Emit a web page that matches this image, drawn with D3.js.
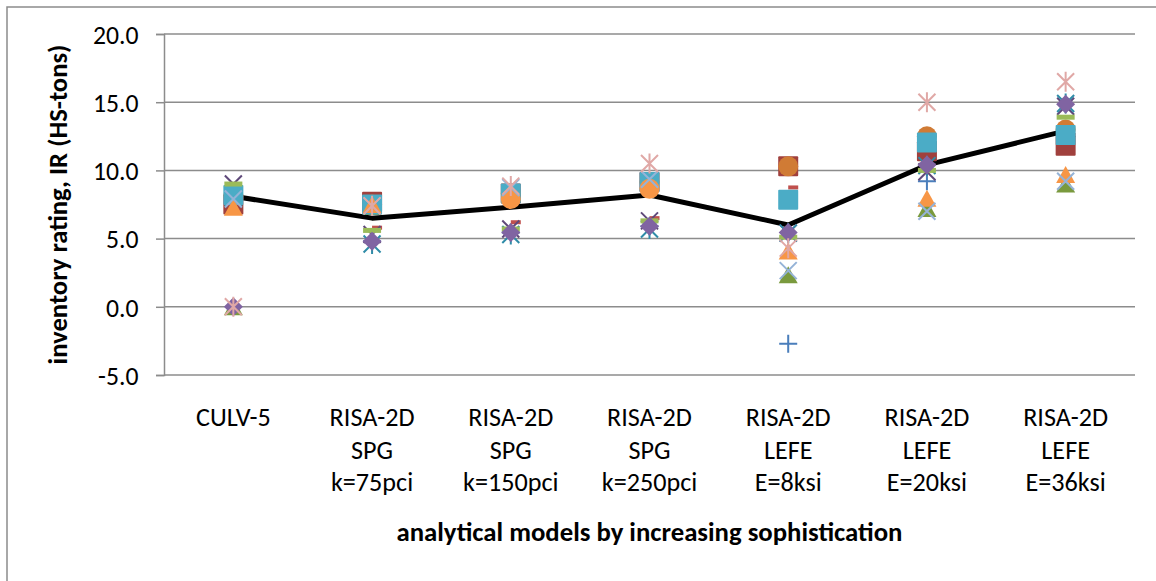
<!DOCTYPE html>
<html><head><meta charset="utf-8">
<script src="https://cdn.jsdelivr.net/npm/d3@7"></script>
<style>html,body{margin:0;padding:0;background:#fff;}svg{display:block;}</style>
</head><body>
<svg id="chart" width="1156" height="581"></svg>
<script>
// ---------------- data ----------------
const categories = ["CULV-5", "RISA-2D\nSPG\nk=75pci", "RISA-2D\nSPG\nk=150pci", "RISA-2D\nSPG\nk=250pci",
                    "RISA-2D\nLEFE\nE=8ksi", "RISA-2D\nLEFE\nE=20ksi", "RISA-2D\nLEFE\nE=36ksi"];
const yTicks = [-5, 0, 5, 10, 15, 20];
const yTitle = "inventory rating, IR (HS-tons)";
const xTitle = "analytical models by increasing sophistication";

const averageIR      = [8.1, 6.5, 7.3, 8.2, 6.0, 10.4, 12.9];
const bluePlus       = [8.2, 4.8, 5.45, 5.9, -2.7, 9.2, 12.6];
const redDot         = [8.0, 5.8, 6.2, 6.5, 8.75, 12.0, 12.6];
const darkRedSquare  = [7.5, 7.7, 8.3, 9.15, 10.3, 11.4, 11.8];
const greenTriangle  = [0.0, 7.35, 8.3, 9.3, 2.35, 7.2, 9.0];
const purpleX        = [9.0, 5.3, 5.7, 6.3, 5.4, 9.9, 14.7];
const aquaStar       = [8.0, 4.6, 5.3, 5.7, 5.4, 10.35, 14.9];
const brownCircle    = [8.2, 7.5, 8.3, 9.15, 10.3, 12.5, 13.0];
const aquaSquare     = [8.2, 7.5, 8.3, 9.15, 7.85, 12.05, 12.6];
const orangeCircle   = [null, null, 7.9, 8.65, null, null, null];
const greenDash      = [9.0, 5.6, 5.7, 6.3, 5.1, 10.0, 13.9];
const orangeTriangle = [7.3, 7.5, null, null, 4.1, 7.95, 9.7];
const lightBlueX     = [7.9, 7.4, 8.75, 9.35, 2.65, 7.0, 9.2];
const purpleDiamond  = [0.0, 4.8, 5.45, 5.9, 5.45, 10.4, 14.85];
const pinkStar       = [0.0, 7.4, 8.85, 10.5, 4.3, 15.0, 16.5];

// series table (drawing order) built from the arrays above
const series = [
  {values: bluePlus,       shape: "plus",     color: "#4A7EBB"},
  {values: redDot,         shape: "dot",      color: "#C0504D"},
  {values: darkRedSquare,  shape: "square",   color: "#A0403D"},
  {values: greenTriangle,  shape: "triangle", color: "#7A9A3E"},
  {values: purpleX,        shape: "x",        color: "#5F497A"},
  {values: aquaStar,       shape: "star",     color: "#2F8CA8"},
  {values: brownCircle,    shape: "circle",   color: "#D07B35"},
  {values: aquaSquare,     shape: "square",   color: "#4BACC6"},
  {values: orangeCircle,   shape: "circle",   color: "#F79646"},
  {values: greenDash,      shape: "dash",     color: "#9BBB59"},
  {values: orangeTriangle, shape: "triangle", color: "#F79646"},
  {values: lightBlueX,     shape: "x",        color: "#95B3D7"},
  {values: purpleDiamond,  shape: "diamond",  color: "#8064A2"},
  {values: pinkStar,       shape: "star",     color: "#E0A8A6"}
];

// ---------------- layout ----------------
const FONT = "Carlito, Calibri, Lato, 'Open Sans', sans-serif";
const svg = d3.select("#chart");
const plot = {left: 164, right: 1135, top: 34, bottom: 375};

const x = d3.scaleBand().domain(categories).range([plot.left, plot.right]);
const y = d3.scaleLinear().domain([-5, 20]).range([plot.bottom, plot.top]);
const cx = c => x(c) + x.bandwidth() / 2;

// size that makes a text reach a target width
function fitSize(text, weight, target) {
  const t = svg.append("text").attr("font-family", FONT).attr("font-weight", weight)
    .attr("font-size", 20).text(text);
  const w = t.node().getComputedTextLength();
  t.remove();
  return 20 * target / w;
}
const tickFs = fitSize("20.0", "normal", 45.6);
const catFs = fitSize("RISA-2D", "normal", 85);
const xTitleFs = fitSize(xTitle, "bold", 506);
const yTitleFs = fitSize(yTitle, "bold", 320);

// chart frame (left / top edges)
svg.append("path").attr("d", "M7,581V7H1156").attr("fill", "none")
  .attr("stroke", "#8C8C8C").attr("stroke-width", 1.5);

// gridlines
svg.append("g").selectAll("line").data(yTicks).join("line")
  .attr("x1", plot.left).attr("x2", plot.right)
  .attr("y1", d => y(d)).attr("y2", d => y(d))
  .attr("stroke", "#8C8C8C").attr("stroke-width", 1.5);

// y axis
const yAxis = svg.append("g").attr("transform", `translate(${plot.left},0)`)
  .call(d3.axisLeft(y).tickValues(yTicks).tickFormat(d => d.toFixed(1)).tickSize(8).tickPadding(17.5));
yAxis.select(".domain").attr("stroke", "#8C8C8C").attr("stroke-width", 1.5);
yAxis.selectAll(".tick line").attr("stroke", "#8C8C8C").attr("stroke-width", 1.5);
yAxis.selectAll(".tick text").attr("font-family", FONT).attr("font-size", tickFs)
  .attr("fill", "#000").attr("dy", "0.36em");

// x category labels
const xl = svg.append("g").selectAll("text").data(categories).join("text")
  .attr("x", d => cx(d)).attr("y", 426).attr("text-anchor", "middle")
  .attr("font-family", FONT).attr("font-size", catFs).attr("fill", "#000");
xl.selectAll("tspan").data(d => d.split("\n")).join("tspan")
  .attr("x", function () { return d3.select(this.parentNode).attr("x"); })
  .attr("dy", (d, i) => i === 0 ? 0 : 32.5).text(d => d);

// titles
svg.append("text").attr("x", (plot.left + plot.right) / 2).attr("y", 541)
  .attr("text-anchor", "middle").attr("font-family", FONT).attr("font-weight", "bold")
  .attr("font-size", xTitleFs).attr("fill", "#000").text(xTitle);
svg.append("text").attr("transform", `translate(67,${(plot.top + plot.bottom) / 2}) rotate(-90)`)
  .attr("text-anchor", "middle").attr("font-family", FONT).attr("font-weight", "bold")
  .attr("font-size", yTitleFs).attr("fill", "#000").text(yTitle);

// average line
svg.append("path").datum(averageIR)
  .attr("d", d3.line().x((d, i) => cx(categories[i])).y(d => y(d)))
  .attr("fill", "none").attr("stroke", "#000").attr("stroke-width", 5)
  .attr("stroke-linejoin", "round");

// markers
function drawMarker(g, shape, color) {
  switch (shape) {
    case "plus":
      g.append("path").attr("d", "M-9,0H9M0,-9V9").attr("stroke", color).attr("stroke-width", 2); break;
    case "dot":
      g.append("rect").attr("x", 0).attr("y", -2).attr("width", 10).attr("height", 4).attr("fill", color); break;
    case "square":
      g.append("rect").attr("x", -10).attr("y", -10).attr("width", 20).attr("height", 20)
        .attr("rx", 1).attr("fill", color); break;
    case "triangle":
      g.append("path").attr("d", "M0,-8.5L9.5,8.5L-9.5,8.5Z").attr("fill", color); break;
    case "x":
      g.append("path").attr("d", "M-8.5,-8.5L8.5,8.5M8.5,-8.5L-8.5,8.5").attr("stroke", color).attr("stroke-width", 2); break;
    case "star":
      g.append("path").attr("d", "M-8.5,-8.5L8.5,8.5M8.5,-8.5L-8.5,8.5M0,-10V10").attr("stroke", color).attr("stroke-width", 2); break;
    case "circle":
      g.append("circle").attr("r", 10).attr("fill", color); break;
    case "dash":
      g.append("rect").attr("x", -9).attr("y", -2.5).attr("width", 18).attr("height", 5).attr("fill", color); break;
    case "diamond":
      g.append("path").attr("d", "M0,-9.5L9.5,0L0,9.5L-9.5,0Z").attr("fill", color); break;
  }
}
const mk = svg.append("g");
series.forEach(s => {
  s.values.forEach((v, i) => {
    if (v === null || v === undefined) return;
    const g = mk.append("g").attr("transform", `translate(${cx(categories[i])},${y(v)})`);
    drawMarker(g, s.shape, s.color);
  });
});
</script>
</body></html>
